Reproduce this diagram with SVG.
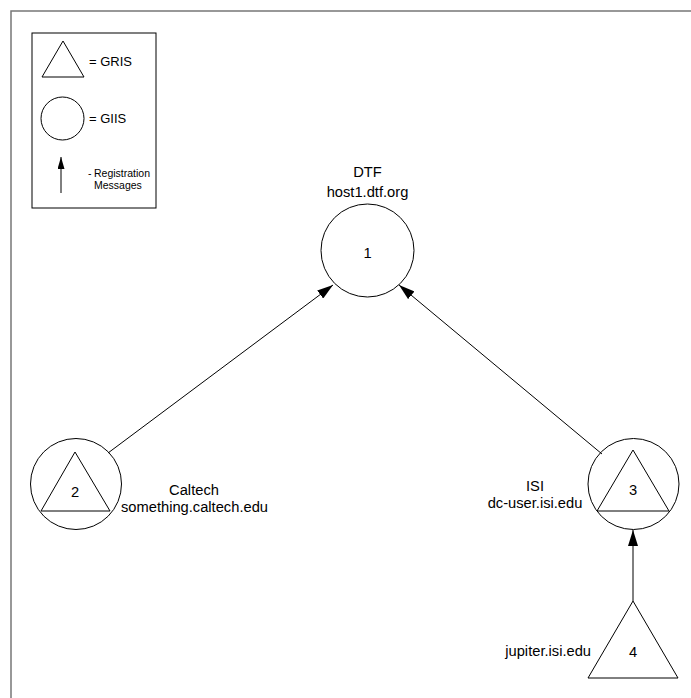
<svg xmlns="http://www.w3.org/2000/svg" width="691" height="698" viewBox="0 0 691 698">
<defs>
<style>
.s{fill:none;stroke:#000;stroke-width:1}
.t{font-family:"Liberation Sans",Arial,sans-serif;font-size:14.7px;fill:#000}
.m{text-anchor:middle}
.sm{font-family:"Liberation Sans",Arial,sans-serif;font-size:10.5px;fill:#000}
.lg{font-family:"Liberation Sans",Arial,sans-serif;font-size:13px;fill:#000}
</style>
<marker id="ah" viewBox="0 0 16 10" refX="16" refY="5" markerWidth="16" markerHeight="10" markerUnits="userSpaceOnUse" orient="auto">
<path d="M0,0L16,5L0,10z" fill="#000"/>
</marker>
<marker id="ahs" viewBox="0 0 12 7" refX="12" refY="3.5" markerWidth="12" markerHeight="7" markerUnits="userSpaceOnUse" orient="auto">
<path d="M0,0L12,3.5L0,7z" fill="#000"/>
</marker>
</defs>
<rect width="691" height="698" fill="#fff"/>
<path d="M11,698V11H691" fill="none" stroke="#777" stroke-width="1.5"/>
<g id="legend">
<rect x="32" y="33" width="124" height="175" class="s"/>
<path d="M63,41L42,77H84z" class="s"/>
<text x="89" y="66" class="lg">= GRIS</text>
<circle cx="62.5" cy="118.5" r="21.5" class="s"/>
<text x="89" y="123" class="lg">= GIIS</text>
<line x1="61" y1="193" x2="61" y2="157" class="s" marker-end="url(#ahs)"/>
<text x="88" y="177" class="sm">-</text>
<text x="94" y="177" class="sm">Registration</text>
<text x="94" y="189" class="sm">Messages</text>
</g>
<g id="connectors">
<line x1="108" y1="453" x2="333" y2="285" class="s" marker-end="url(#ah)"/>
<line x1="602" y1="454" x2="399" y2="285" class="s" marker-end="url(#ah)"/>
<line x1="633" y1="601" x2="633" y2="530" class="s" marker-end="url(#ah)"/>
</g>
<g id="node1">
<text x="367.5" y="177" class="t m">DTF</text>
<text x="367.5" y="197" class="t m">host1.dtf.org</text>
<circle cx="367.5" cy="250.5" r="46.5" class="s"/>
<text x="367.5" y="258" class="t m">1</text>
</g>
<g id="node2">
<circle cx="76" cy="484" r="45.5" class="s"/>
<path d="M75,452L41,511H110z" class="s"/>
<text x="75" y="497" class="t m">2</text>
<text x="194" y="495" class="t m">Caltech</text>
<text x="121" y="512" class="t">something.caltech.edu</text>
</g>
<g id="node3">
<circle cx="633.5" cy="484" r="45.5" class="s"/>
<path d="M633,450L597,511H669z" class="s"/>
<text x="633" y="495" class="t m">3</text>
<text x="535" y="491" class="t m">ISI</text>
<text x="535" y="508" class="t m">dc-user.isi.edu</text>
</g>
<g id="node4">
<path d="M633,601L588,678H678z" class="s"/>
<text x="633" y="657" class="t m">4</text>
<text x="591" y="656" class="t" text-anchor="end">jupiter.isi.edu</text>
</g>
</svg>
